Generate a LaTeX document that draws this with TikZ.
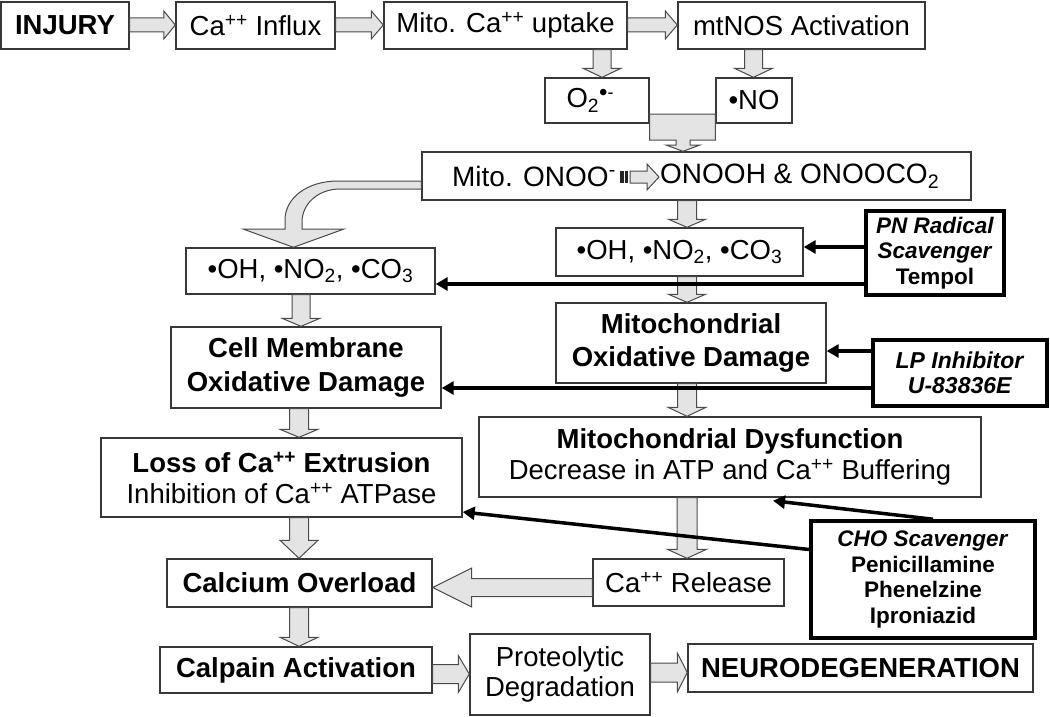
\documentclass[tikz,border=0pt]{standalone}
\usepackage{fontspec}
\setmainfont{Liberation Sans}
\usetikzlibrary{arrows.meta,calc}
\definecolor{boxc}{HTML}{383838}
\definecolor{blkfill}{HTML}{E4E4E4}
\definecolor{blkline}{HTML}{4A4A4A}
\tikzset{
 box/.style={draw=boxc, fill=white, line width=1.4pt, inner sep=0pt, align=center, font=\fontsize{27.5}{32}\selectfont},
 boxb/.style={box, font=\bfseries\fontsize{27.5}{33}\selectfont},
 inh/.style={draw=black, fill=white, line width=3.5pt, inner sep=0pt, align=center, font=\bfseries\fontsize{22.5}{25.5}\selectfont},
 blk/.style={draw=blkline, fill=blkfill, line width=1pt, line join=miter},
 conn/.style={draw=black, line width=3.5pt, -{Triangle[length=12pt,width=13pt]}},
 txt/.style={inner sep=0pt, font=\fontsize{28}{32}\selectfont},
}
% vertical block arrow: source, target, x, shaft half, head half, head length
\newcommand\vblk[6]{%
 \path[blk] let \p1=(#1.south), \p2=(#2.north) in
  (#3pt-#4pt,\y1) -- (#3pt+#4pt,\y1) -- (#3pt+#4pt,\y2+#6pt) -- (#3pt+#5pt,\y2+#6pt) -- (#3pt,\y2)
  -- (#3pt-#5pt,\y2+#6pt) -- (#3pt-#4pt,\y2+#6pt) -- cycle;}
% horizontal (rightward) block arrow: source, target, y, shaft half, head half, head length
\newcommand\hblk[6]{%
 \path[blk] let \p1=(#1.east), \p2=(#2.west) in
  (\x1,-#3pt+#4pt) -- (\x2-#6pt,-#3pt+#4pt) -- (\x2-#6pt,-#3pt+#5pt) -- (\x2,-#3pt)
  -- (\x2-#6pt,-#3pt-#5pt) -- (\x2-#6pt,-#3pt-#4pt) -- (\x1,-#3pt-#4pt) -- cycle;}
\begin{document}
\begin{tikzpicture}[x=1pt,y=-1pt]
\useasboundingbox (0,0) rectangle (1050,717);
\fill[white] (0,0) rectangle (1050,717);

% ---------- nodes ----------
\node[boxb, minimum width=128pt, minimum height=47pt] (injury) at (65,25.5) {INJURY};
\node[box, minimum width=159pt, minimum height=47pt] (influx) at (255.5,25.5) {Ca\textsuperscript{++} Influx};
\node[box, minimum width=243pt, minimum height=47pt] (uptake) at (505.5,25.5) {Mito. Ca\textsuperscript{++} uptake};
\node[box, minimum width=247pt, minimum height=47pt] (mtnos) at (801.5,25.5) {mtNOS Activation};

\node[box, minimum width=104pt, minimum height=45pt] (o2) at (597,100.5) {O\textsubscript{2}\raisebox{7pt}{\fontsize{24}{24}\selectfont•}\raisebox{9pt}{\fontsize{18}{18}\selectfont -}\hspace{14pt}};
\node[box, minimum width=76pt, minimum height=45pt] (no) at (754,100.5) {•NO};

\node[box, minimum width=549pt, minimum height=48pt] (onoo) at (696.5,176) {};
\node[txt, anchor=east] (onooa) at (616,176) {Mito. ONOO\textsuperscript{-}};
\node[txt, anchor=west] (onoob) at (660,176) {ONOOH \& ONOOCO\textsubscript{2}};

\node[box, minimum width=249pt, minimum height=46pt] (ohl) at (310.5,271) {•OH, •NO\textsubscript{2}, •CO\textsubscript{3}};
\node[box, minimum width=247pt, minimum height=48pt] (ohr) at (679.5,252) {•OH, •NO\textsubscript{2}, •CO\textsubscript{3}};
\node[inh, minimum width=138pt, minimum height=84pt] (pn) at (935,253) {\textit{PN Radical}\\\textit{Scavenger}\\Tempol};

\node[boxb, minimum width=270pt, minimum height=81pt, font=\bfseries\fontsize{27.5}{34}\selectfont] (cell) at (306,367.5) {Cell Membrane\\Oxidative Damage};
\node[boxb, minimum width=270pt, minimum height=80pt] (mitoox) at (691,343) {Mitochondrial\\Oxidative Damage};
\node[inh, minimum width=174pt, minimum height=66pt, font=\bfseries\fontsize{23}{24.5}\selectfont] (lp) at (960,373) {\textit{LP Inhibitor}\\\textit{U-83836E}};

\node[box, minimum width=361pt, minimum height=79pt, font=\fontsize{27.5}{31}\selectfont] (loss) at (281.5,477.5) {\textbf{Loss of Ca\textsuperscript{++} Extrusion}\\Inhibition of Ca\textsuperscript{++} ATPase};
\node[box, minimum width=502pt, minimum height=80pt, font=\fontsize{27.5}{30.5}\selectfont] (mitodys) at (730,457) {\textbf{Mitochondrial Dysfunction}\\Decrease in ATP and Ca\textsuperscript{++} Buffering};
\node[inh, minimum width=224pt, minimum height=117pt] (cho) at (923,579.5) {\textit{CHO Scavenger}\\Penicillamine\\Phenelzine\\Iproniazid};

\node[boxb, minimum width=265pt, minimum height=48pt] (overload) at (299.5,583) {Calcium Overload};
\node[box, minimum width=191pt, minimum height=47pt] (carel) at (688.5,582.5) {Ca\textsuperscript{++} Release};
\node[boxb, minimum width=272pt, minimum height=46pt] (calpain) at (296,670) {Calpain Activation};
\node[box, minimum width=180pt, minimum height=81pt, font=\fontsize{27.5}{30}\selectfont] (proteo) at (560,674.5) {Proteolytic\\Degradation};
\node[boxb, minimum width=345pt, minimum height=48pt] (neuro) at (860.5,668) {NEURODEGENERATION};

% ---------- gray block arrows ----------
\hblk{injury}{influx}{25}{7}{14}{11.5}
\hblk{influx}{uptake}{25}{7}{14}{12}
\hblk{uptake}{mtnos}{25}{7}{14}{12}
\vblk{uptake}{o2}{602}{9}{19}{9}
\vblk{mtnos}{no}{753.5}{9}{19}{9}
% merged arrow O2 + NO -> ONOO
\path[blk] let \p1=(o2.south east), \p2=(no.south west), \p3=(onoo.north) in
 (\x1,-114pt) -- (\x2,-114pt) -- (\x2,-140pt) -- (690pt,-140pt) -- (690pt,-145pt) -- (700pt,-145pt)
 -- (683pt,\y3) -- (666pt,-145pt) -- (676pt,-145pt) -- (676pt,-140pt) -- (\x1,-140pt) -- cycle;
% striped arrow inside ONOO box
\fill[black!85] (620,171) rectangle (623.5,183);
\fill[black!85] (625,171) rectangle (628,183);
\path[blk] (630,171) -- (647,171) -- (647,164) -- (659,177) -- (647,190) -- (647,183) -- (630,183) -- cycle;
% curved arrow ONOO -> left radicals
\path[blk] let \p1=(onoo.west), \p2=(ohl.north) in
 (\x1,-181pt) -- (338pt,-181pt) .. controls (307pt,-181pt) and (285pt,-198pt) .. (285pt,-220pt)
 -- (285pt,-229pt) -- (243pt,-229pt) -- (293.5pt,\y2) -- (344pt,-229pt) -- (302pt,-229pt)
 -- (302pt,-222pt) .. controls (302pt,-204pt) and (318pt,-189pt) .. (340pt,-189pt) -- (\x1,-189pt) -- cycle;
\vblk{onoo}{ohr}{687}{9.5}{18.5}{8}
\vblk{ohr}{mitoox}{687}{9.5}{18.5}{8}
\vblk{ohl}{cell}{301}{9}{19}{8}
\vblk{cell}{loss}{299}{9.5}{19}{8}
\vblk{mitoox}{mitodys}{687}{9.5}{19}{9}
\vblk{loss}{overload}{299}{9.5}{19}{18}
\vblk{mitodys}{carel}{687}{10}{19.5}{9}
\vblk{overload}{calpain}{299}{9.5}{19}{9}
\hblk{calpain}{proteo}{674}{9.5}{18.5}{11}
\hblk{proteo}{neuro}{672.5}{9.5}{19.5}{10}
% leftward arrow Ca release -> calcium overload
\path[blk] let \p1=(carel.west), \p2=(overload.east) in
 (\x1,-578.5pt) -- (\x2+39pt,-578.5pt) -- (\x2+39pt,-568pt) -- (\x2,-587.5pt) -- (\x2+39pt,-607pt)
 -- (\x2+39pt,-596.5pt) -- (\x1,-596.5pt) -- cycle;

% ---------- inhibitor connectors ----------
\coordinate (pnA) at ([yshift=6pt]pn.west);
\coordinate (pnB) at ([yshift=-31pt]pn.west);
\coordinate (lpA) at ([yshift=22pt]lp.west);
\coordinate (lpB) at ([yshift=-15pt]lp.west);
\coordinate (choA) at ([xshift=10pt]cho.north);
\coordinate (choT) at ([xshift=43pt,yshift=-3pt]mitodys.south);
\coordinate (choB) at ([yshift=30pt]cho.west);
\coordinate (lossT) at ([yshift=-34.5pt]loss.east);
\draw[conn] (pnA) -- (pnA -| ohr.east);
\draw[conn] (pnB) -- (pnB -| ohl.east);
\draw[conn] (lpA) -- (lpA -| mitoox.east);
\draw[conn] (lpB) -- (lpB -| cell.east);
\draw[conn] (choA) -- (choT);
\draw[conn] (choB) -- (lossT);
\end{tikzpicture}
\end{document}
